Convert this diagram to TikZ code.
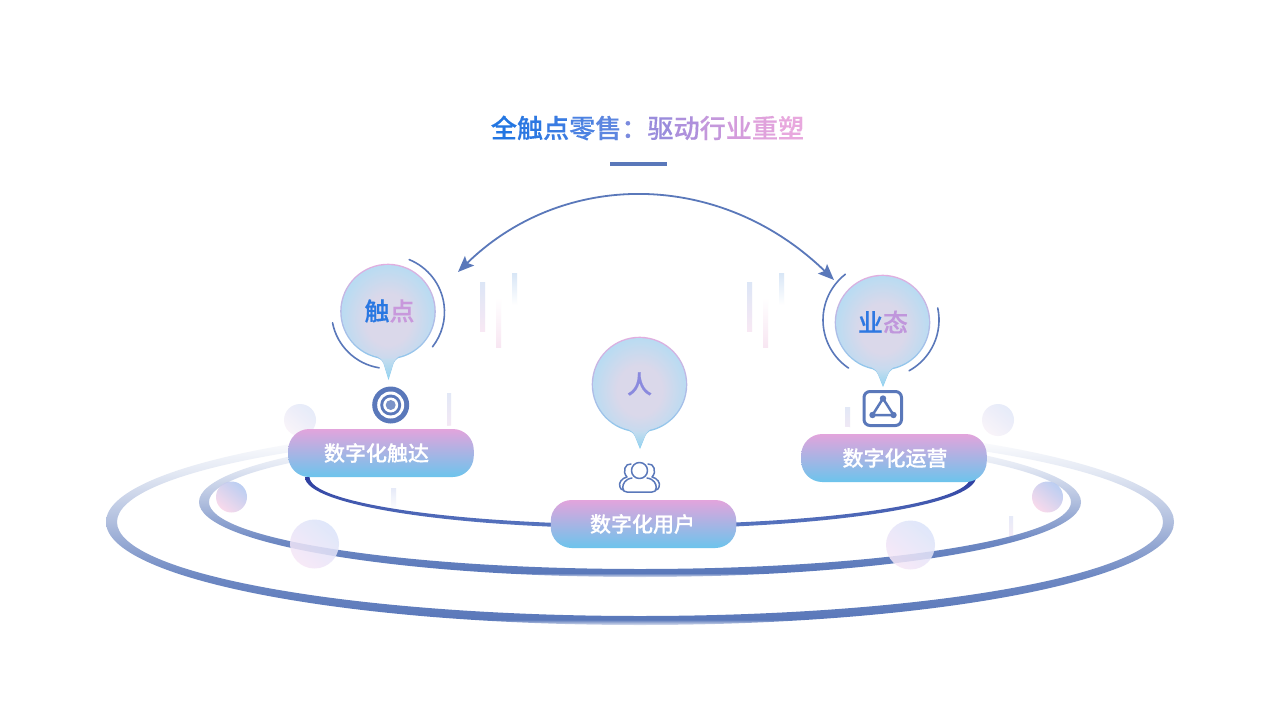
\documentclass[tikz,border=0pt]{standalone}
\usepackage{fontspec}
\setmainfont[BoldFont={Noto Sans CJK SC Medium},BoldFeatures={FakeBold=0.35}]{Noto Sans CJK SC}
\usetikzlibrary{arrows.meta}
\definecolor{lineblue}{HTML}{5A78BA}
\definecolor{pillpink}{HTML}{E2A4DC}
\definecolor{pillmid}{HTML}{A2B0E2}
\definecolor{pillblue}{HTML}{6CC4EC}
\definecolor{darkarc}{HTML}{2C3C9F}
\definecolor{midarc}{HTML}{5A78C0}
\definecolor{bubblemid}{HTML}{DAD8EA}
\definecolor{bubbleedge}{HTML}{B4DCF3}
\definecolor{bubbletiptop}{HTML}{C4DCEF}
\definecolor{bubbletip}{HTML}{94D4F0}
\pgfdeclareverticalshading{ringshade}{100bp}{
  color(0bp)=(white);
  color(25bp)=(white!80!lineblue);
  color(26.3bp)=(lineblue);
  color(37bp)=(lineblue!88!white);
  color(50bp)=(lineblue!48!white);
  color(62bp)=(lineblue!17!white);
  color(68bp)=(lineblue!6!white);
  color(71bp)=(white);
  color(100bp)=(white)}
\pgfdeclareradialshading{bubbleshade}{\pgfpoint{0bp}{0bp}}{
  color(0bp)=(bubblemid);
  color(11bp)=(bubblemid);
  color(25bp)=(bubbleedge);
  color(50bp)=(bubbleedge)}
\newcommand{\tc}[2]{\textcolor[HTML]{#1}{#2}}
% cx, cy, tip drop
\newcommand{\balloon}[3]{%
  \begin{scope}[shift={(#1,#2)}]
    \shade[top color=pillpink!90!white, bottom color=pillblue!85!white, middle color=pillmid!85!white]
      (102:47.8) arc[start angle=102,end angle=438,radius=47.8]
      .. controls (7.5,48.5) and (6.5,49.5) .. (5.5,52) -- (0.5,#3) -- (-4.5,52) .. controls (-5.5,49.5) and (-6.5,48.5) .. cycle;
    \shade[shading=bubbleshade]
      (103:46.4) arc[start angle=103,end angle=437,radius=46.4]
      .. controls (7.5,47.5) and (6,49) .. (5,52) -- (0.5,#3-2) -- (-4,52) .. controls (-5,49) and (-6.5,47.5) .. cycle;
    \shade[top color=bubbletiptop, bottom color=bubbletip]
      (-7,47) -- (8,47) .. controls (6.5,48) and (6,49) .. (5,52) -- (0.5,#3-1.5) -- (-4,52) .. controls (-5,49) and (-5.5,48) .. cycle;
  \end{scope}}
\tikzset{
  pillbox/.style={rounded corners=21pt, top color=pillpink, middle color=pillmid, bottom color=pillblue,
    minimum width=185.5pt, minimum height=48pt, inner sep=0pt, text=white, font=\fontsize{21pt}{24pt}\selectfont\bfseries},
  bubbletext/.style={inner sep=0pt, font=\fontsize{25pt}{30pt}\selectfont\bfseries},
  halo/.style={draw=lineblue, line width=1.6pt, line cap=round},
  iconline/.style={draw=lineblue, line width=1.5pt, line cap=round, line join=round},
}
\newcommand{\vbar}[6]{\definecolor{vtop}{HTML}{#5}\definecolor{vbot}{HTML}{#6}\shade[top color=vtop, bottom color=vbot] (#1,#3) rectangle (#2,#4);}
\newcommand{\ball}[5]{\definecolor{vtop}{HTML}{#4}\definecolor{vbot}{HTML}{#5}\shade[shading=axis, top color=vtop, bottom color=vbot, shading angle=-40, opacity=0.85] (#1,#2) circle (#3);}
\begin{document}
\begin{tikzpicture}[x=1pt,y=-1pt]
\useasboundingbox (0,0) rectangle (1280,720);
\fill[white] (0,0) rectangle (1280,720);

% decorative bars
\vbar{480}{485}{282}{331}{DCE6F6}{F8E8F4}
\vbar{496}{501}{298}{347}{FFFFFF}{F8E6F2}
\vbar{512}{517}{273}{305}{D8E6F6}{FFFFFF}
\vbar{747}{752}{282}{331}{DCE6F6}{F8E8F4}
\vbar{763}{768}{298}{347}{FFFFFF}{F8E6F2}
\vbar{779}{784}{273}{305}{D8E6F6}{FFFFFF}
\vbar{447}{451}{393}{431}{E2E8F6}{F6E8F4}
\vbar{845}{850}{407}{436}{E2E8F6}{F6E8F4}
\vbar{391}{396}{488}{510}{E6EAF8}{FFFFFF}
\vbar{1009}{1013}{516}{540}{E6EAF8}{F8ECF6}

% rings
\shade[shading=ringshade, even odd rule]
  (640,522) ellipse[x radius=534,y radius=103]
  (640,522) ellipse[x radius=523,y radius=94];
\shade[shading=ringshade, even odd rule]
  (640,502) ellipse[x radius=441,y radius=75]
  (640,502) ellipse[x radius=431,y radius=67];

% dark crescent
\shade[top color=darkarc, bottom color=midarc]
  (305,477) arc[start angle=180,end angle=0,x radius=335.5,y radius=51.5]
  -- (970.5,477) arc[start angle=0,end angle=180,x radius=330.5,y radius=47.5] -- cycle;

% orbs
\ball{300}{420}{16}{E2E8F8}{F8F2F8}
\ball{998}{420}{16}{E2E8F8}{F8F2F8}
\ball{231.5}{497}{15.5}{B0C6F0}{F8D4E8}
\ball{1047.5}{497}{15.5}{B0C6F0}{F8D4E8}
\ball{314.5}{544}{24.5}{DAE3FA}{F6E6F6}
\ball{910.5}{545}{24.5}{DAE3FA}{F6E6F6}

% title
\node[inner sep=0pt, font=\fontsize{26.1pt}{30pt}\selectfont\bfseries] (title) at (647.5,128)
  {\tc{2376E2}{全}\tc{2C78E2}{触}\tc{3A7CE2}{点}\tc{4C82E2}{零}\tc{5C86E0}{售}\tc{7A8ADE}{：}\tc{9A8CDC}{驱}\tc{AE90DC}{动}\tc{C498DC}{行}\tc{D49CDC}{业}\tc{E0A2DC}{重}\tc{E8A8DE}{塑}};
\fill[lineblue] (610,162) rectangle (667,166);

% balloons
\balloon{388}{311.5}{68.5}
\balloon{639.5}{384.5}{64.5}
\balloon{882.5}{322.5}{64.5}
\node[bubbletext] (touch) at (389.5,311) {\tc{2A78E2}{触}\tc{C898DC}{点}};
\node[bubbletext] (person) at (639.5,384) {\tc{8A8ADE}{人}};
\node[bubbletext] (format) at (883,322) {\tc{2E78E2}{业}\tc{C096DC}{态}};

% halos
\draw[halo] (388,312) ++(-68:56.5) arc[start angle=-68,end angle=38,radius=56.5];
\draw[halo] (388,312) ++(-191:56.5) arc[start angle=-191,end angle=-261,radius=56.5];
\draw[halo] (881,320) ++(-128:58) arc[start angle=-128,end angle=-236,radius=58];
\draw[halo] (881,320) ++(-12:58) arc[start angle=-12,end angle=61,radius=58];

% main arc
\coordinate (arcL) at (458,272);
\coordinate (arcR) at (834,280);
\draw[draw=lineblue, line width=1.8pt, {Stealth[length=16pt,width=13pt,inset=3pt]}-{Stealth[length=16pt,width=13pt,inset=3pt]}]
  (arcL) .. controls (563,169.5) and (720,169.5) .. (arcR);

% target icon
\fill[lineblue] (390.7,405) circle (18.5);
\fill[white] (390.7,405) circle (13.5);
\fill[lineblue] (390.7,405) circle (10.5);
\fill[white] (390.7,405) circle (7.5);
\fill[lineblue!80!white] (390.7,405) circle (5);

% people icon
\draw[iconline] (639.5,470.5) circle (8);
\draw[iconline] (632,478) .. controls (625,479) and (622.5,484) .. (622.8,488) .. controls (623,491) and (624.5,492) .. (627,492)
  -- (652,492) .. controls (654.5,492) and (656,491) .. (656.2,488) .. controls (656.5,484) and (654,479) .. (647,478);
\draw[iconline] (631,464) .. controls (625,463) and (622,472) .. (627,477) .. controls (622,478) and (618,483) .. (620,487) .. controls (620.5,489) and (621.5,489.5) .. (623,490);
\draw[iconline] (648,464) .. controls (654,463) and (657,472) .. (652,477) .. controls (657,478) and (661,483) .. (659,487) .. controls (658.5,489) and (657.5,489.5) .. (656,490);

% network icon
\draw[draw=lineblue, line width=3pt, rounded corners=6pt] (864,391.5) rectangle (901.5,425.5);
\draw[draw=lineblue, line width=2.5pt, line join=round] (883,398.5) -- (872.5,415) -- (893.5,415) -- cycle;
\fill[lineblue] (883,398.5) circle (3.2) (872.5,415) circle (3.2) (893.5,415) circle (3.2);

% pills
\node[pillbox] (pillA) at (381,453) {\kern-9pt\raisebox{-1pt}{数字化触达}};
\node[pillbox] (pillB) at (643.5,524) {\kern-2pt\raisebox{-0.5pt}{数字化用户}};
\node[pillbox] (pillC) at (894,458) {\raisebox{-1pt}{数字化运营}\kern-2pt};
\end{tikzpicture}
\end{document}
